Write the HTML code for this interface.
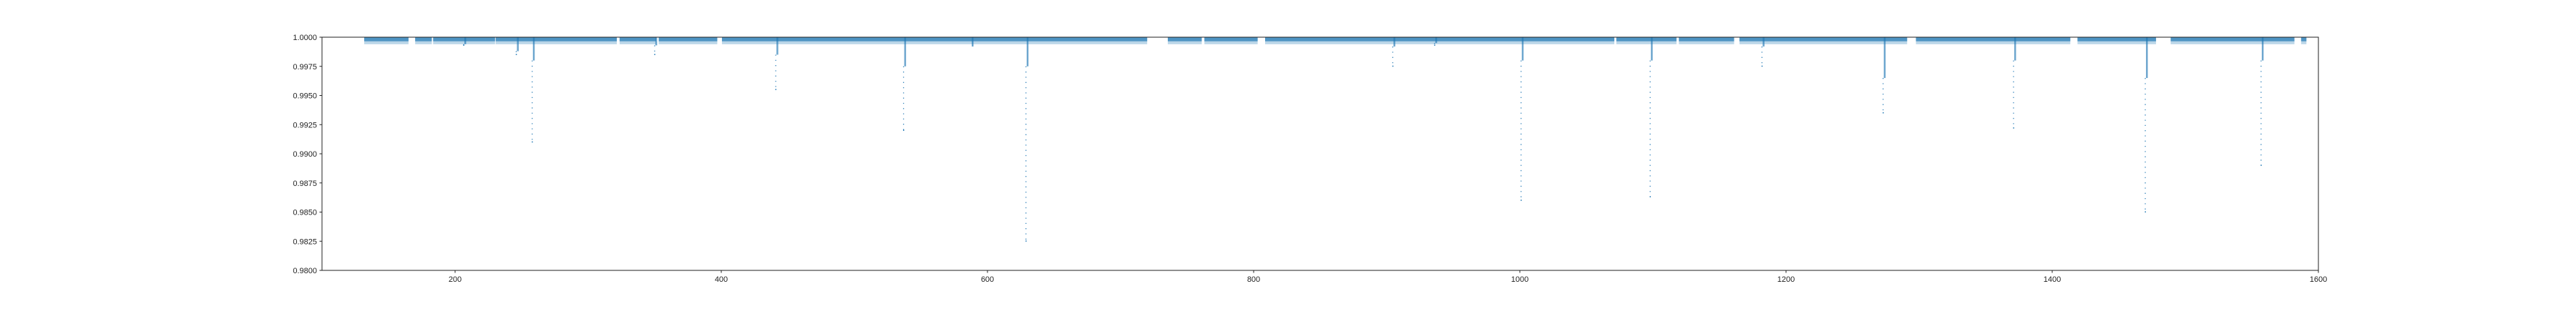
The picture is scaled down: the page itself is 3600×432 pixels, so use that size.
<!DOCTYPE html>
<html><head><meta charset="utf-8"><style>
html,body{margin:0;padding:0;background:#fff;}
svg{display:block;font-family:"Liberation Sans",sans-serif;}
</style></head><body>
<svg id="chart" width="3600" height="432" xmlns="http://www.w3.org/2000/svg">
<g id="plot"></g>
<g id="axes"></g>
</svg>
<script>
const xTicks = [200,400,600,800,1000,1200,1400,1600];
const yTicks = [0.98,0.9825,0.985,0.9875,0.99,0.9925,0.995,0.9975,1.0];
const yTickLabels = ["0.9800","0.9825","0.9850","0.9875","0.9900","0.9925","0.9950","0.9975","1.0000"];
const segStart = [131.7,170,183.5,230.5,323.6,353,400.5,735.5,763,808.6,1072.5,1119.5,1165,1297.6,1419,1489,1587];
const segEnd   = [165,182.5,230,321.5,351,397,720,761,803,1071,1117.7,1161,1291,1413.6,1478,1582,1591];
const dipTime  = [207.5,247,259,351,442,538,588.7,630,905.6,937,1002,1099,1183,1274,1372,1471,1558];
const dipDense = [0.9994,0.9988,0.998,0.9993,0.9985,0.9975,0.9992,0.9975,0.9992,0.9995,0.998,0.998,0.9992,0.9965,0.998,0.9965,0.998];
const dipMin   = [0.9993,0.9985,0.991,0.9985,0.9955,0.992,0.9992,0.9825,0.9975,0.9993,0.986,0.9863,0.9975,0.9935,0.9922,0.985,0.989];

const L=450,R=3240,T=52,B=378;
const X0=100,X1=1600,Y0=0.98,Y1=1.0;
const xs=v=>L+(v-X0)/(X1-X0)*(R-L);
const ys=v=>B-(v-Y0)/(Y1-Y0)*(B-T);
const NS="http://www.w3.org/2000/svg";
const plot=document.getElementById('plot'), axes=document.getElementById('axes');
function mk(tag,attrs,parent){const e=document.createElementNS(NS,tag);for(const k in attrs)e.setAttribute(k,attrs[k]);parent.appendChild(e);return e;}

segStart.forEach((s,i)=>{
  const x=xs(s), w=xs(segEnd[i])-x;
  const g=mk('g',{},plot);
  
  
  const r1=mk('rect',{x:x,y:ys(1.0),width:w,height:ys(0.9994)-ys(1.0),fill:'#1f77b4','fill-opacity':0.3},g);
  
  
  const r2=mk('rect',{x:x,y:ys(1.0),width:w,height:ys(0.99965)-ys(1.0),fill:'#1f77b4','fill-opacity':0.7},g);
  
  
});
dipTime.forEach((t,i)=>{
  const x=xs(t);
  const g=mk('g',{},plot);
  
  
  const d=mk('rect',{x:x-1,y:ys(1.0),width:2.5,height:ys(dipDense[i])-ys(1.0),fill:'#1f77b4','fill-opacity':0.65},g);
  
  
  if(dipMin[i]<dipDense[i]){
    const l=mk('line',{x1:x-2,x2:x-2,y1:ys(dipDense[i]),y2:ys(dipMin[i]),stroke:'#1f77b4','stroke-width':1.3,'stroke-dasharray':'1.3 6','stroke-opacity':0.9},g);
    
    
    const c=mk('rect',{x:x-2.6,y:ys(dipMin[i])-1,width:1.5,height:1.5,fill:'#1f77b4'},g);
    
    
  }
});

const frame=mk('rect',{x:L,y:T,width:R-L,height:B-T,fill:'none',stroke:'#222','stroke-width':1},axes);


xTicks.forEach(v=>{
  const x=xs(v);
  const t=mk('line',{x1:x,x2:x,y1:B,y2:B+3.5,stroke:'#222','stroke-width':1},axes);
  
  
  const tx=mk('text',{x:x,y:B+16,'font-size':11,'text-anchor':'middle',fill:'#222'},axes);
  tx.textContent=String(v);
  
  
});
yTicks.forEach((v,i)=>{
  const y=ys(v);
  const t=mk('line',{x1:L-3.5,x2:L,y1:y,y2:y,stroke:'#222','stroke-width':1},axes);
  
  
  const tx=mk('text',{x:L-7,y:y+4,'font-size':11,'text-anchor':'end',fill:'#222'},axes);
  tx.textContent=yTickLabels[i];
  
  
});
</script>
</body></html>
